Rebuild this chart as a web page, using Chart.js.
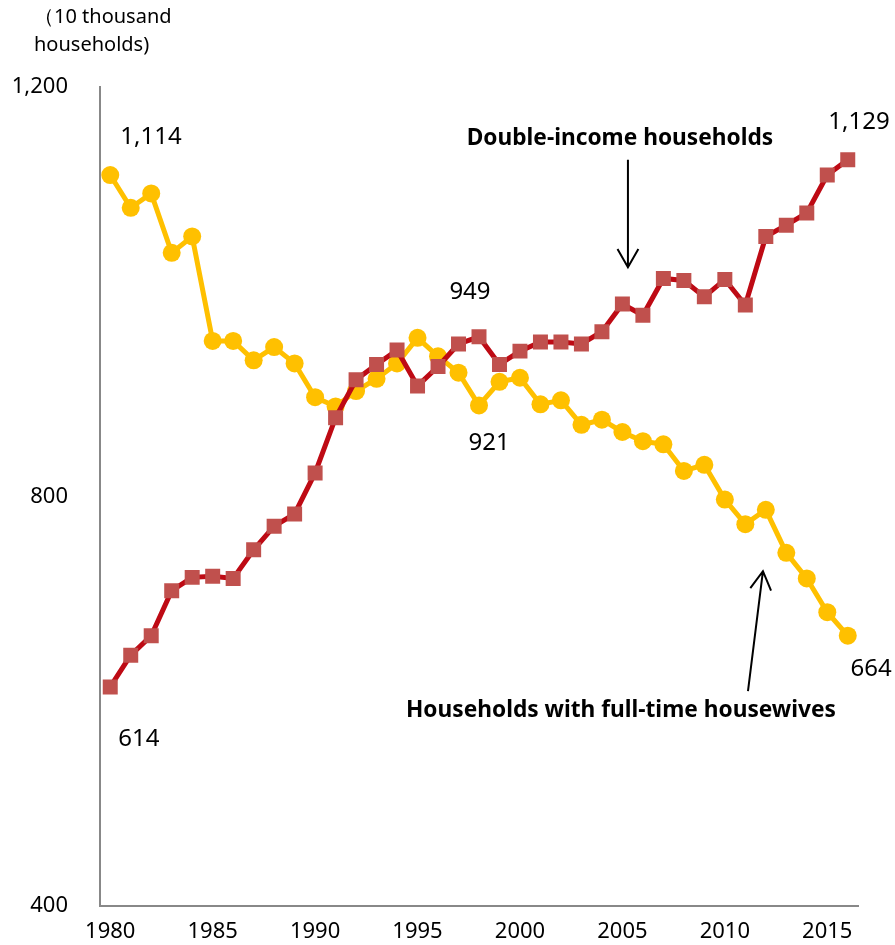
<!DOCTYPE html>
<html>
<head>
<meta charset="utf-8">
<script src="https://cdn.jsdelivr.net/npm/chart.js@4.4.1/dist/chart.umd.min.js"></script>
<style>
  html, body { margin: 0; padding: 0; background: #fff; overflow: hidden; }
  canvas { display: block; }
</style>
</head>
<body>
<canvas id="chart" width="895" height="945"></canvas>
<script>
// categories
var years = [1980, 1981, 1982, 1983, 1984, 1985, 1986, 1987, 1988, 1989,
             1990, 1991, 1992, 1993, 1994, 1995, 1996, 1997, 1998, 1999,
             2000, 2001, 2002, 2003, 2004, 2005, 2006, 2007, 2008, 2009,
             2010, 2011, 2012, 2013, 2014, 2015, 2016];

// 10 thousand households
var doubleIncome = [614, 645, 664, 708, 721, 722, 720, 748, 771, 783,
                    823, 877, 914, 929, 943, 908, 927, 949, 956, 929,
                    942, 951, 951, 949, 961, 988, 977, 1013, 1011, 995,
                    1012, 987, 1054, 1065, 1077, 1114, 1129];
var housewives = [1114, 1082, 1096, 1038, 1054, 952, 952, 933, 946, 930,
                  897, 888, 903, 915, 930, 955, 937, 921, 889, 912,
                  916, 890, 894, 870, 875, 863, 854, 851, 825, 831,
                  797, 773, 787, 745, 720, 687, 664];

var yTicks = [400, 800, 1200];
var unitLines = ["（10 thousand", "households)"];
var seriesNames = ["Double-income households", "Households with full-time housewives"];

var FONT = "'Noto Sans', 'Open Sans', sans-serif";

// text notes: [text, year, value, size, bold]
var notes = [
   [housewives[0].toLocaleString("en-US"), 1981.99, 1151, 24, false],
   [doubleIncome[0].toLocaleString("en-US"), 1981.4, 563, 24, false],
   [doubleIncome[17].toLocaleString("en-US"), 1997.56, 1000, 24, false],
   [housewives[17].toLocaleString("en-US"), 1998.49, 852, 24, false],
   [doubleIncome[36].toLocaleString("en-US"), 2016.55, 1166, 24, false],
   [housewives[36].toLocaleString("en-US"), 2017.14, 631, 24, false],
   [seriesNames[0], 2004.88, 1150, 22.7, true],
   [seriesNames[1], 2004.93, 591, 22.7, true]
];
// arrows: [fromYear, fromValue, toYear, toValue]
var arrows = [
   [2005.27, 1129, 2005.27, 1024],
   [2011.13, 610, 2011.86, 727]
];

const annotate = {
   id: "annotate",
   afterDraw(chart) {
      const ctx = chart.ctx;
      const xs = chart.scales.x, ys = chart.scales.y;
      const px = function (yr) { return xs.getPixelForValue(yr - years[0]); };
      const area = chart.chartArea;
      ctx.save();
      ctx.fillStyle = "#000";
      ctx.textAlign = "center";
      ctx.textBaseline = "middle";
      notes.forEach(function (n) {
         ctx.font = (n[4] ? "bold " : "") + n[3] + "px " + FONT;
         ctx.fillText(n[0], px(n[1]), ys.getPixelForValue(n[2]));
      });

      ctx.strokeStyle = "#000";
      ctx.lineWidth = 2;
      arrows.forEach(function (a) {
         var x1 = px(a[0]), y1 = ys.getPixelForValue(a[1]);
         var x2 = px(a[2]), y2 = ys.getPixelForValue(a[3]);
         var ang = Math.atan2(y2 - y1, x2 - x1);
         var len = 21, spread = 0.52;
         ctx.beginPath();
         ctx.moveTo(x1, y1);
         ctx.lineTo(x2, y2);
         ctx.moveTo(x2 - len * Math.cos(ang - spread), y2 - len * Math.sin(ang - spread));
         ctx.lineTo(x2, y2);
         ctx.lineTo(x2 - len * Math.cos(ang + spread), y2 - len * Math.sin(ang + spread));
         ctx.stroke();
      });

      // unit label
      ctx.textAlign = "left";
      ctx.font = "20px " + FONT;
      ctx.fillText(unitLines[0], area.left - 66, area.top - 70);
      ctx.fillText(unitLines[1], area.left - 66, area.top - 42);
      ctx.restore();
   }
};

const ctx = document.getElementById("chart");
const myChart = new Chart(ctx, {
   type: "line",
   data: {
      labels: years,
      datasets: [{
         label: seriesNames[0],
         data: doubleIncome,
         borderColor: "#BE0A14",
         backgroundColor: "#C0504D",
         borderWidth: 5,
         pointStyle: "rect",
         pointRadius: 10.6,
         pointBorderWidth: 0,
         pointBackgroundColor: "#C0504D",
         tension: 0,
         order: 0
      }, {
         label: seriesNames[1],
         data: housewives,
         borderColor: "#FFC000",
         backgroundColor: "#FFC000",
         borderWidth: 5,
         pointStyle: "circle",
         pointRadius: 9,
         pointBorderWidth: 0,
         pointBackgroundColor: "#FFC000",
         tension: 0,
         order: 1
      }]
   },
   options: {
      responsive: false,
      animation: false,
      layout: { padding: { top: 87, right: 37, left: 0, bottom: 0 } },
      plugins: {
         legend: { display: false },
         tooltip: { enabled: false }
      },
      scales: {
         x: {
            type: "category",
            offset: true,
            afterFit: function (s) { s.height = 39; },
            grid: { display: true, drawOnChartArea: false, drawTicks: false },
            border: { display: true, color: "#888", width: 2 },
            ticks: {
               autoSkip: false,
               maxRotation: 0,
               padding: 13,
               color: "#000",
               font: { family: FONT, size: 22 },
               callback: function (v, i) {
                  return years[i] % 5 === 0 ? String(years[i]) : "";
               }
            }
         },
         y: {
            min: yTicks[0],
            max: yTicks[yTicks.length - 1],
            afterFit: function (s) {
               s.width = 100;
               // labels sit beside the axis, they need no extra room above/below
               s.paddingTop = 0;
               s.paddingBottom = 0;
            },
            afterBuildTicks: function (s) {
               s.ticks = yTicks.map(function (v) { return { value: v }; });
            },
            grid: { display: true, drawOnChartArea: false, drawTicks: false },
            border: { display: true, color: "#888", width: 2 },
            ticks: {
               padding: 32,
               color: "#000",
               font: { family: FONT, size: 22 },
               callback: function (v) { return v.toLocaleString("en-US"); }
            }
         }
      }
   },
   plugins: [annotate]
});
</script>
</body>
</html>
